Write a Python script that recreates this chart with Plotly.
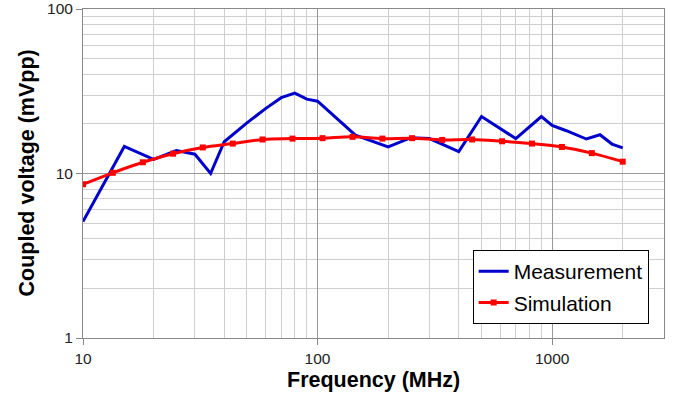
import plotly.graph_objects as go

meas_freq = [10, 15, 20, 25, 30, 35, 40, 50, 60, 70, 80, 90, 100, 145, 200, 250, 300, 400, 500, 700, 900, 1000, 1150, 1400, 1600, 1800, 2000]
meas_val = [5.1, 14.6, 12.2, 13.8, 13.1, 10.0, 15.6, 20.3, 24.8, 28.9, 30.8, 28.3, 27.5, 17.1, 14.5, 16.5, 16.3, 13.6, 22.2, 16.3, 22.2, 19.6, 18.2, 16.2, 17.2, 15.1, 14.3]

sim_freq = [10, 13.4, 18.0, 24.2, 32.4, 43.5, 58.3, 78.2, 105, 141, 189, 253, 340, 456, 612, 821, 1101, 1477, 2000]
sim_val = [8.6, 10.1, 11.7, 13.2, 14.4, 15.2, 16.1, 16.3, 16.4, 16.7, 16.3, 16.4, 16.0, 16.1, 15.7, 15.2, 14.5, 13.3, 11.8]

x_ticks = [10, 100, 1000]
y_ticks = [1, 10, 100]

FONT = "Liberation Sans, Arial"

fig = go.Figure()
fig.add_trace(go.Scatter(x=meas_freq, y=meas_val, mode="lines", name="Measurement",
                         legendgroup="m",
                         line=dict(color="#0000CC", width=3)))
fig.add_trace(go.Scatter(x=sim_freq, y=sim_val, mode="lines+markers", name="Simulation",
                         legendgroup="s",
                         line=dict(color="#FF0000", width=3, shape="spline"),
                         marker=dict(symbol="square", size=6, color="#FF0000")))

axis_common = dict(type="log", showline=True, linecolor="#888888", linewidth=1,
                   gridcolor="#999999", gridwidth=1, ticks="outside", ticklen=6,
                   tickcolor="#888888", zeroline=False, automargin=False,
                   ticklabeloverflow="allow",
                   tickfont=dict(family=FONT, size=15.5, color="#222222"),
                   minor=dict(showgrid=True, gridcolor="#CFCFCF", gridwidth=1, ticks="", dtick="D1"))

fig.update_xaxes(**axis_common, range=[1, 3.477], tickvals=x_ticks, ticktext=[str(v) for v in x_ticks], mirror=True)
fig.update_yaxes(**axis_common, range=[0, 2], tickvals=y_ticks, ticktext=[str(v) for v in y_ticks], mirror=True)

fig.update_layout(
    width=680, height=396,
    margin=dict(l=83, r=16, t=9, b=58, autoexpand=False),
    paper_bgcolor="white", plot_bgcolor="white",
    font=dict(family=FONT, color="#000000"),
    legend=dict(x=0.6707, y=0.2675, xanchor="left", yanchor="top",
                bgcolor="white", bordercolor="#000000", borderwidth=1,
                font=dict(size=21, color="#000000"), tracegroupgap=1),
    showlegend=True,
    annotations=[
        dict(text="<b>Frequency (MHz)</b>", xref="paper", yref="paper", x=0.5, y=-0.1277,
             xanchor="center", yanchor="middle", showarrow=False,
             font=dict(size=21.5, family=FONT, color="#000000")),
        dict(text="<b>Coupled voltage (mVpp)</b>", xref="paper", yref="paper", x=-0.0981, y=0.5,
             xanchor="center", yanchor="middle", showarrow=False, textangle=-90,
             font=dict(size=21.5, family=FONT, color="#000000")),
    ],
)

fig.write_html("out.html", config={"displayModeBar": False},
               post_script="document.body.style.margin='0';")
